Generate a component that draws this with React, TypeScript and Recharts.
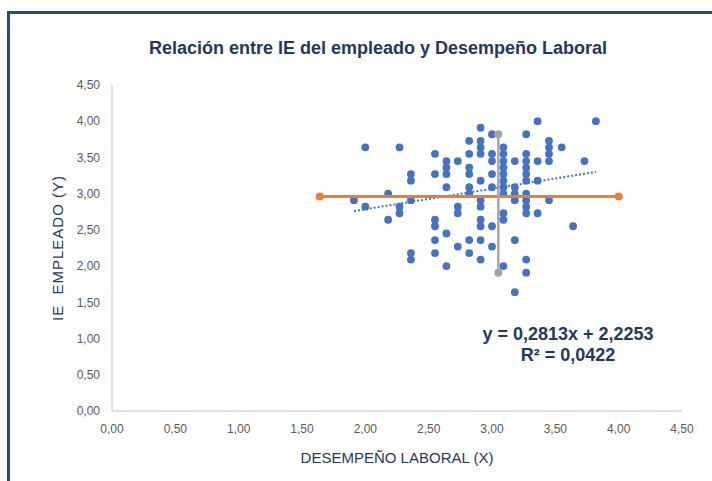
import { ScatterChart, Scatter, XAxis, YAxis } from "recharts";

// desempeño laboral (X) values, one per column of points
const desempeno = [
  1.91, 2.0, 2.18, 2.27, 2.36, 2.55, 2.64, 2.73, 2.82, 2.91,
  3.0, 3.09, 3.18, 3.27, 3.36, 3.45, 3.55, 3.64, 3.73, 3.82,
];

// IE empleado (Y) values found at each X column
const ieEmpleado = [
  [2.91],
  [3.64, 2.82],
  [3.0, 2.64],
  [3.64, 2.82, 2.73],
  [3.27, 3.18, 2.91, 2.18, 2.09],
  [3.55, 3.27, 2.64, 2.55, 2.36, 2.18],
  [3.45, 3.36, 3.27, 3.09, 2.45, 2.0],
  [3.45, 2.82, 2.73, 2.27],
  [3.73, 3.55, 3.36, 3.27, 3.09, 3.0, 2.36, 2.18],
  [3.91, 3.73, 3.64, 3.55, 3.18, 2.91, 2.82, 2.64, 2.55, 2.36, 2.09],
  [3.82, 3.55, 3.45, 3.27, 3.09, 2.55, 2.27],
  [3.64, 3.55, 3.45, 3.36, 3.27, 3.18, 3.09, 3.0, 2.73, 2.64, 2.0],
  [3.45, 3.09, 3.0, 2.91, 2.36, 1.64],
  [3.82, 3.55, 3.45, 3.36, 3.27, 3.18, 3.0, 2.91, 2.82, 2.73, 2.09, 1.91],
  [4.0, 3.45, 3.18, 2.73],
  [3.73, 3.64, 3.55, 3.45, 2.91],
  [3.64],
  [2.55],
  [3.45],
  [4.0],
];

// linear trend y = 0,2813x + 2,2253 over the data range
const trendX = [1.91, 3.82];
const trendY = [2.76, 3.3];

// horizontal (orange) and vertical (gray) reference segments
const orangeX = [1.64, 4.0];
const orangeY = [2.96, 2.96];
const grayX = [3.05, 3.05];
const grayY = [1.91, 3.82];

const ticks = [0, 0.5, 1, 1.5, 2, 2.5, 3, 3.5, 4, 4.5];

const points = desempeno.flatMap((x, i) => ieEmpleado[i].map((y) => ({ x, y })));
const toPairs = (xs: number[], ys: number[]) => xs.map((x, i) => ({ x, y: ys[i] }));

const fmt = (v: number) => v.toFixed(2).replace(".", ",");
const navy = "#1F3864";
const font = "'Liberation Sans', Arial, sans-serif";

export default function App() {
  return (
    <div style={{ position: "absolute", left: 0, top: 0, width: 712, height: 481, fontFamily: font, overflow: "hidden" }}>
      <div
        style={{
          position: "absolute",
          left: 7,
          top: 11,
          right: 0,
          bottom: 0,
          borderTop: "3px solid #1F4E79",
          borderLeft: "3px solid #1F4E79",
        }}
      />
      <ScatterChart
        width={712}
        height={481}
        margin={{ top: 85, right: 30, bottom: 40, left: 62 }}
        style={{ position: "absolute", left: 0, top: 0 }}
      >
        <XAxis
          type="number"
          dataKey="x"
          domain={[0, 4.5]}
          ticks={ticks}
          tickFormatter={fmt}
          tickLine={false}
          tickMargin={7}
          height={30}
          stroke="#BFBFBF"
          tick={{ fill: "#595959", fontSize: 12, fontFamily: font }}
        />
        <YAxis
          type="number"
          dataKey="y"
          domain={[0, 4.5]}
          ticks={ticks}
          tickFormatter={fmt}
          tickLine={false}
          tickMargin={6}
          width={50}
          stroke="#BFBFBF"
          tick={{ fill: "#595959", fontSize: 12, fontFamily: font }}
        />
        <Scatter
          data={points}
          isAnimationActive={false}
          shape={(p: any) => <circle cx={p.cx} cy={p.cy} r={3.9} fill="#4472C4" />}
        />
        <Scatter
          data={toPairs(trendX, trendY)}
          isAnimationActive={false}
          line={{ stroke: "#4472C4", strokeWidth: 2, strokeDasharray: "2 2" }}
          shape={() => <g />}
        />
        <Scatter
          data={toPairs(orangeX, orangeY)}
          isAnimationActive={false}
          line={{ stroke: "#ED7D31", strokeWidth: 3 }}
          shape={(p: any) => <circle cx={p.cx} cy={p.cy} r={4} fill="#ED7D31" />}
        />
        <Scatter
          data={toPairs(grayX, grayY)}
          isAnimationActive={false}
          line={{ stroke: "#A5A5A5", strokeWidth: 2.5 }}
          shape={(p: any) => <circle cx={p.cx} cy={p.cy} r={4} fill="#A5A5A5" />}
        />
      </ScatterChart>

      <div
        style={{
          position: "absolute",
          left: 378,
          top: 48,
          transform: "translate(-50%, -50%)",
          whiteSpace: "nowrap",
          fontSize: 18,
          fontWeight: "bold",
          color: navy,
        }}
      >
        Relación entre IE del empleado y Desempeño Laboral
      </div>

      <div
        style={{
          position: "absolute",
          left: 397,
          top: 457,
          transform: "translate(-50%, -50%)",
          whiteSpace: "nowrap",
          fontSize: 15,
          color: navy,
        }}
      >
        DESEMPEÑO LABORAL (X)
      </div>

      <div
        style={{
          position: "absolute",
          left: 57,
          top: 248,
          transform: "translate(-50%, -50%) rotate(-90deg)",
          whiteSpace: "pre",
          fontSize: 15,
          letterSpacing: 1,
          color: navy,
        }}
      >
        {"IE  EMPLEADO (Y)"}
      </div>

      <div
        style={{
          position: "absolute",
          left: 568,
          top: 345,
          transform: "translate(-50%, -50%)",
          whiteSpace: "nowrap",
          fontSize: 18,
          fontWeight: "bold",
          color: navy,
          textAlign: "center",
          lineHeight: "21px",
        }}
      >
        y = 0,2813x + 2,2253
        <br />
        R² = 0,0422
      </div>
    </div>
  );
}
